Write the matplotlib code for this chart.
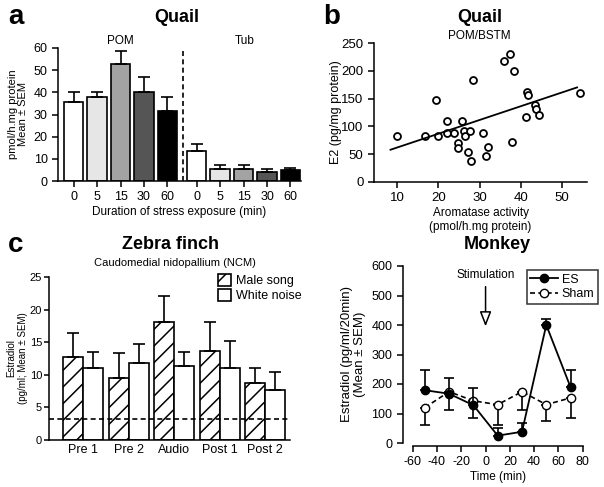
import matplotlib
matplotlib.use('Agg')
import matplotlib.pyplot as plt
from matplotlib.patches import Patch
from matplotlib.lines import Line2D

plt.rcParams['font.family'] = ['Liberation Sans', 'DejaVu Sans']
plt.rcParams['axes.unicode_minus'] = False
plt.rcParams['hatch.linewidth'] = 1.1
plt.rcParams['axes.linewidth'] = 1.1
plt.rcParams['xtick.major.width'] = 1.1
plt.rcParams['ytick.major.width'] = 1.1
plt.rcParams['xtick.major.size'] = 4
plt.rcParams['ytick.major.size'] = 4

# panel a - quail aromatase after stress
stress_times = ['0', '5', '15', '30', '60']
pom_mean = [35.6, 37.8, 53.0, 40.3, 31.8]
pom_sem = [4.7, 2.5, 5.5, 6.4, 5.9]
tub_mean = [13.5, 5.6, 5.6, 4.1, 5.0]
tub_sem = [3.1, 1.7, 1.8, 1.2, 0.9]
bar_greys = ['white', '#e6e6e6', '#a3a3a3', '#555555', 'black']

# panel b - quail E2 vs aromatase (POM/BSTM)
arom = [10, 16.7, 19.5, 19.9, 22.1, 22.1, 23.8, 24.8, 24.8, 25.8, 26.3, 26.4,
        27.1, 27.7, 27.9, 28.5, 30.8, 31.9, 31.6, 36.0, 37.3, 38.4, 37.8,
        41.5, 41.8, 41.3, 43.3, 43.6, 44.3, 54.4]
e2 = [83, 83, 148, 83, 88, 109, 88, 70, 62, 109, 92, 82,
      54, 92, 37, 183, 88, 63, 47, 217, 230, 200, 72,
      162, 157, 117, 139, 131, 120, 160]
fit_x = [8.4, 53.6]
fit_slope = 2.48
fit_intercept = 37.2

# panel c - zebra finch NCM
periods = ['Pre 1', 'Pre 2', 'Audio', 'Post 1', 'Post 2']
song_mean = [12.7, 9.5, 18.1, 13.6, 8.8]
song_sem = [3.7, 3.8, 4.0, 4.5, 2.3]
noise_mean = [11.0, 11.8, 11.4, 11.0, 7.7]
noise_sem = [2.5, 3.0, 2.1, 4.2, 2.7]
detect_limit = 3.2

# panel d - monkey
time_min = [-50, -30, -10, 10, 30, 50, 70]
es_mean = [179, 167, 128, 25, 38, 400, 189]
es_sem = [68, 53, 59, 25, 29, 22, 58]
sham_mean = [120, 174, 143, 130, 174, 130, 153]
sham_sem = [59, 62, 57, 70, 62, 56, 67]

W, H = 604, 487
fig = plt.figure(figsize=(W / 100, H / 100), dpi=100)


def px_axes(left, top, right, bottom):
    return fig.add_axes([left / W, 1 - bottom / H, (right - left) / W, (bottom - top) / H])


def clean(ax):
    ax.spines['top'].set_visible(False)
    ax.spines['right'].set_visible(False)


# ---- a ----
ax = px_axes(58, 48, 301, 181)
clean(ax)
pos_pom = [0, 1, 2, 3, 4]
pos_tub = [5.25, 6.25, 7.25, 8.25, 9.25]
ax.bar(pos_pom, pom_mean, width=0.83, color=bar_greys, edgecolor='black', linewidth=1.2,
       yerr=[[0] * 5, pom_sem], error_kw=dict(capsize=4, elinewidth=1.2, capthick=1.2))
ax.bar(pos_tub, tub_mean, width=0.83, color=bar_greys, edgecolor='black', linewidth=1.2,
       yerr=[[0] * 5, tub_sem], error_kw=dict(capsize=4, elinewidth=1.2, capthick=1.2))
ax.axvline(4.66, color='black', linestyle=(0, (3, 2)), linewidth=1.2)
ax.set_xlim(-0.67, 9.7)
ax.set_ylim(0, 60)
ax.set_yticks(range(0, 61, 10))
ax.set_xticks(pos_pom + pos_tub)
ax.set_xticklabels(stress_times + stress_times)
ax.tick_params(labelsize=9)
ax.text(2, 63.3, 'POM', ha='center', va='center', fontsize=8.5, clip_on=False)
ax.text(7.3, 63.3, 'Tub', ha='center', va='center', fontsize=8.5, clip_on=False)
ax.set_xlabel('Duration of stress exposure (min)', fontsize=8.5, labelpad=2)
ax.set_ylabel('pmol/h.mg protein\nMean ± SEM', fontsize=8, linespacing=1.0)
ax.yaxis.set_label_coords(-0.125, 0.5)
fig.text(8 / W, 1 - 17 / H, 'a', fontsize=20, fontweight='bold', va='center')
fig.text(177 / W, 1 - 17 / H, 'Quail', fontsize=13, fontweight='bold', ha='center', va='center')

# ---- b ----
ax = px_axes(374, 43, 587, 182)
clean(ax)
ax.plot(arom, e2, 'o', ms=5, mfc='white', mec='black', mew=1.3, clip_on=False)
ax.plot(fit_x, [fit_intercept + fit_slope * x for x in fit_x], color='black', lw=1.3)
ax.set_xlim(4.4, 56)
ax.set_ylim(0, 250)
ax.set_xticks(range(10, 51, 10))
ax.set_yticks(range(0, 251, 50))
ax.tick_params(labelsize=9.5)
ax.text(30, 252, 'POM/BSTM', ha='center', va='bottom', fontsize=8.5, clip_on=False)
ax.set_xlabel('Aromatase activity\n(pmol/h.mg protein)', fontsize=8.5, labelpad=2)
ax.set_ylabel('E2 (pg/mg protein)', fontsize=9)
ax.yaxis.set_label_coords(-0.15, 0.5)
fig.text(323 / W, 1 - 17 / H, 'b', fontsize=20, fontweight='bold', va='center')
fig.text(480 / W, 1 - 17 / H, 'Quail', fontsize=13, fontweight='bold', ha='center', va='center')

# ---- c ----
ax = px_axes(49, 277, 290, 440)
clean(ax)
xs = range(len(periods))
ax.bar([i - 0.22 for i in xs], song_mean, width=0.44, color='white', edgecolor='black',
       hatch='//', linewidth=1.2, yerr=[[0] * 5, song_sem],
       error_kw=dict(capsize=4, elinewidth=1.2, capthick=1.2))
ax.bar([i + 0.22 for i in xs], noise_mean, width=0.44, color='white', edgecolor='black',
       linewidth=1.2, yerr=[[0] * 5, noise_sem],
       error_kw=dict(capsize=4, elinewidth=1.2, capthick=1.2))
ax.axhline(detect_limit, color='black', linestyle=(0, (3, 2)), linewidth=1.2)
ax.set_xlim(-0.75, 4.55)
ax.set_ylim(0, 25)
ax.set_yticks(range(0, 26, 5))
ax.set_xticks(list(xs))
ax.set_xticklabels(periods)
ax.tick_params(axis='x', length=0, labelsize=9, pad=3)
ax.tick_params(axis='y', labelsize=8, pad=1.5, length=3.5)
ax.set_ylabel('Estradiol\n(pg/ml; Mean ± SEM)', fontsize=7, linespacing=1.15)
ax.yaxis.set_label_coords(-0.088, 0.5)
leg_handles = [Patch(facecolor='white', edgecolor='black', hatch='//', lw=1.2),
               Patch(facecolor='white', edgecolor='black', lw=1.2)]
ax.legend(leg_handles, ['Male song', 'White noise'], loc='upper right',
          bbox_to_anchor=(302 / W, 1 - 274 / H), bbox_transform=fig.transFigure,
          frameon=False, fontsize=9, handlelength=1.1, handleheight=1.1,
          handletextpad=0.4, labelspacing=0.15, borderaxespad=0, borderpad=0)
fig.text(8 / W, 1 - 245 / H, 'c', fontsize=20, fontweight='bold', va='center')
fig.text(170 / W, 1 - 245 / H, 'Zebra finch', fontsize=13, fontweight='bold', ha='center', va='center')
fig.text(175 / W, 1 - 263 / H, 'Caudomedial nidopallium (NCM)', fontsize=8, ha='center', va='center')

# ---- d ----
ax = px_axes(412.7, 266, 582.7, 443)
clean(ax)
ax.spines['left'].set_position(('outward', 7))
ax.spines['bottom'].set_position(('outward', 2))
ax.errorbar(time_min, es_mean, yerr=[[0] * 7, es_sem], fmt='-o', color='black', ms=6,
            lw=1.3, capsize=3.5, elinewidth=1.2, capthick=1.2, clip_on=False, zorder=3)
ax.errorbar(time_min, sham_mean, yerr=[sham_sem, [0] * 7], fmt='--o', color='black', ms=6,
            mfc='white', lw=1.2, dashes=(3, 2), capsize=3.5, elinewidth=1.2, capthick=1.2,
            clip_on=False, zorder=2)
ax.annotate('', xy=(0, 395), xytext=(0, 530),
            arrowprops=dict(arrowstyle='-|>,head_length=0.9,head_width=0.35', fc='white',
                            ec='black', lw=1.1, shrinkA=0, shrinkB=0))
ax.text(0, 570, 'Stimulation', ha='center', va='center', fontsize=8.5)
ax.set_xlim(-60, 80)
ax.set_ylim(0, 600)
ax.set_xticks(range(-60, 81, 20))
ax.set_yticks(range(0, 601, 100))
ax.tick_params(labelsize=9)
ax.set_xlabel('Time (min)', fontsize=8.5, labelpad=2)
ax.set_ylabel('Estradiol (pg/ml/20min)\n(Mean ± SEM)', fontsize=9.5, linespacing=1.1)
ax.yaxis.set_label_coords(-0.275, 0.5)
d_handles = [Line2D([], [], color='black', marker='o', ms=6, lw=1.3),
             Line2D([], [], color='black', marker='o', ms=6, mfc='white', lw=1.2, dashes=(3, 2))]
leg = ax.legend(d_handles, ['ES', 'Sham'], loc='upper right',
                bbox_to_anchor=(598 / W, 1 - 270 / H), bbox_transform=fig.transFigure,
                fancybox=False, edgecolor='black', fontsize=9, handlelength=2.2,
                handletextpad=0.3, labelspacing=0.2, borderpad=0.3, borderaxespad=0)
leg.get_frame().set_linewidth(1.1)
fig.text(497 / W, 1 - 245 / H, 'Monkey', fontsize=13, fontweight='bold', ha='center', va='center')

fig.savefig('out.png', dpi=100)
